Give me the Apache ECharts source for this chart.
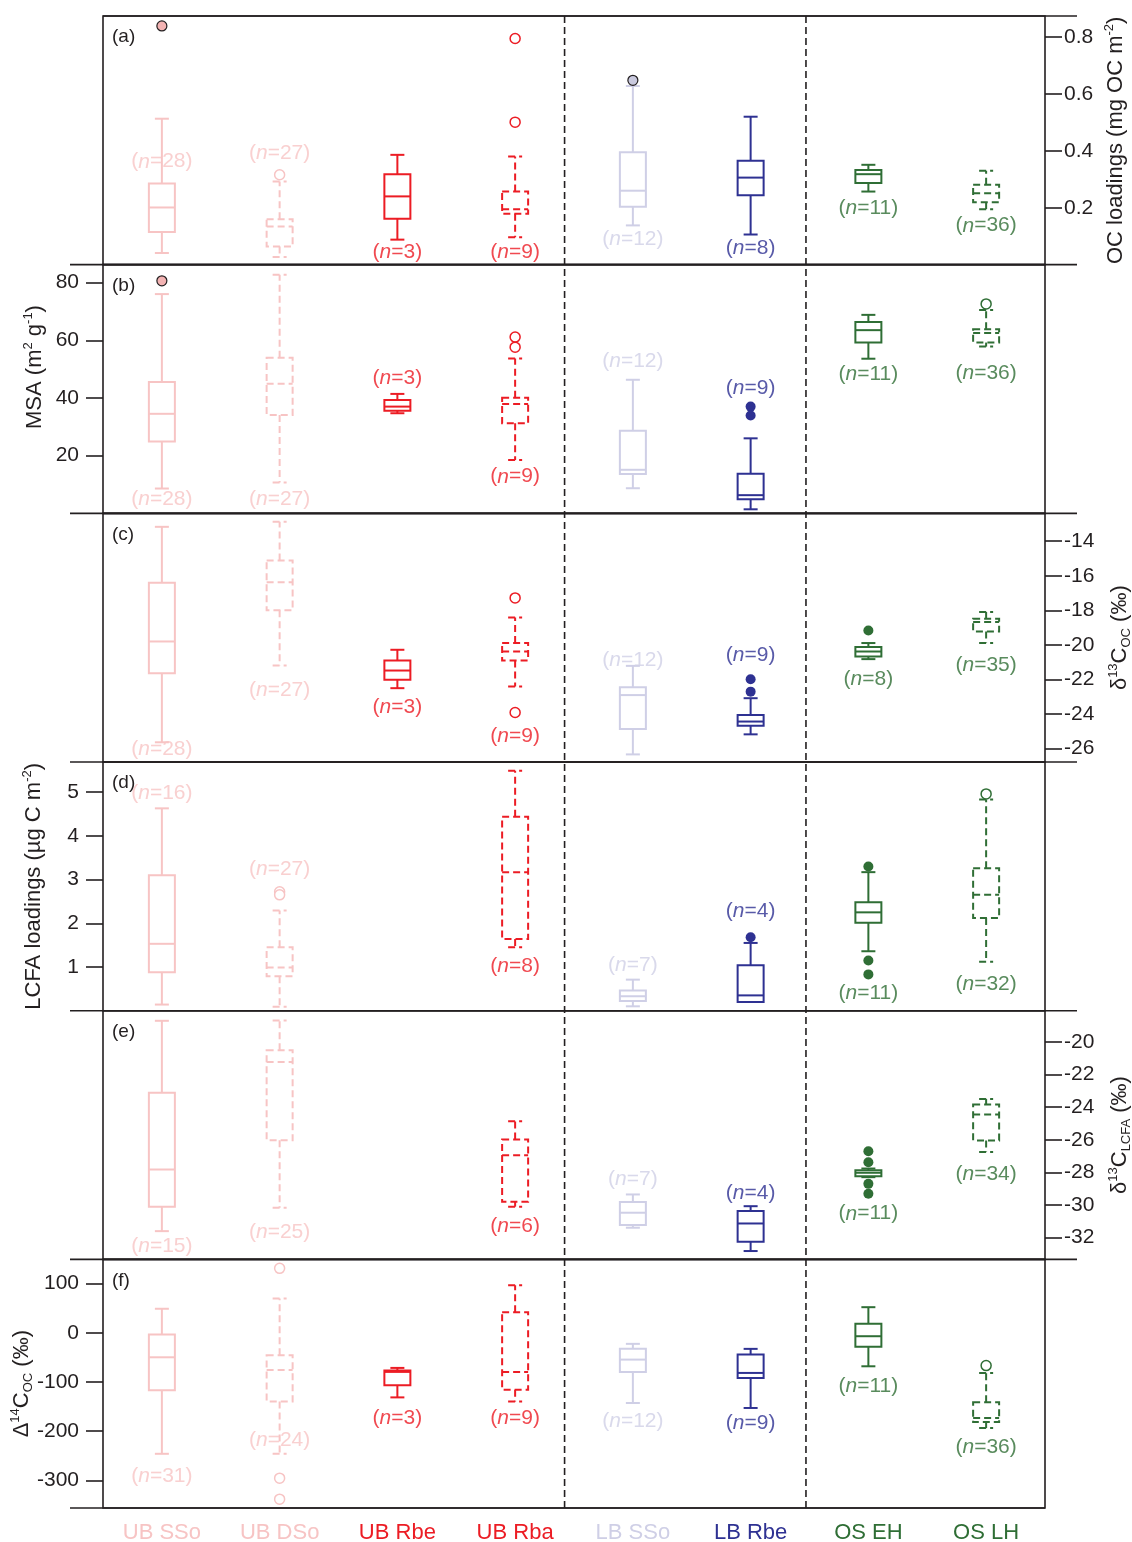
<!DOCTYPE html>
<html>
<head>
<meta charset="utf-8">
<script src="https://cdn.jsdelivr.net/npm/echarts@6/dist/echarts.min.js"></script>
<style>
  html, body { margin: 0; padding: 0; background: #fff; }
  #chart { width: 1132px; height: 1542px; }
</style>
</head>
<body>
<div id="chart"></div>
<script>
// ---- categories ----
const categories = ['UB SSo', 'UB DSo', 'UB Rbe', 'UB Rba', 'LB SSo', 'LB Rbe', 'OS EH', 'OS LH'];

// ---- box statistics: [lower whisker, Q1, median, Q3, upper whisker] per category ----
const ocLoadingBoxes = [
  [0.041, 0.115, 0.201, 0.285, 0.513],
  [0.027, 0.064, 0.134, 0.160, 0.292],
  [0.088, 0.161, 0.240, 0.318, 0.386],
  [0.096, 0.179, 0.195, 0.257, 0.380],
  [0.138, 0.204, 0.260, 0.395, 0.628],
  [0.106, 0.244, 0.306, 0.365, 0.520],
  [0.257, 0.287, 0.318, 0.333, 0.351],
  [0.195, 0.219, 0.251, 0.281, 0.330]
];
const ocLoadingOutliers = [[0, 0.839], [1, 0.316], [3, 0.795], [3, 0.501], [4, 0.648]];
const ocLoadingN = [28, 27, 3, 9, 12, 8, 11, 36];
const ocLoadingTicks = [0.2, 0.4, 0.6, 0.8];

const msaBoxes = [
  [8.6, 24.9, 34.5, 45.5, 76.0],
  [10.7, 34.1, 44.9, 53.9, 82.7],
  [34.7, 35.6, 37.0, 39.3, 41.4],
  [18.5, 31.2, 37.9, 40.1, 53.7],
  [8.7, 13.6, 15.1, 28.6, 46.3],
  [1.4, 4.9, 6.3, 13.7, 26.0],
  [53.6, 59.2, 63.5, 66.3, 68.8],
  [57.8, 59.2, 62.5, 63.8, 70.5]
];
const msaOutliers = [[0, 80.6], [3, 61.1], [3, 57.6], [5, 37.0], [5, 33.9], [7, 72.6]];
const msaN = [28, 27, 3, 9, 12, 9, 11, 36];
const msaTicks = [20, 40, 60, 80];

const d13cOcBoxes = [
  [-25.63, -21.63, -19.80, -16.41, -13.17],
  [-21.19, -18.00, -16.38, -15.12, -12.88],
  [-22.50, -22.02, -21.48, -20.90, -20.28],
  [-22.41, -20.90, -20.38, -19.89, -18.41],
  [-26.33, -24.86, -22.90, -22.44, -21.21],
  [-25.17, -24.68, -24.43, -24.05, -23.08],
  [-20.82, -20.67, -20.38, -20.12, -19.89],
  [-19.89, -19.22, -18.67, -18.48, -18.09]
];
const d13cOcOutliers = [[3, -17.28], [3, -23.91], [5, -21.98], [5, -22.70], [6, -19.16]];
const d13cOcN = [28, 27, 3, 9, 12, 9, 8, 35];
const d13cOcTicks = [-26, -24, -22, -20, -18, -16, -14];

const lcfaBoxes = [
  [0.14, 0.88, 1.53, 3.10, 4.63],
  [0.09, 0.79, 0.99, 1.45, 2.29],
  null,
  [1.45, 1.64, 3.17, 4.44, 5.49],
  [0.10, 0.22, 0.33, 0.46, 0.71],
  [0.20, 0.20, 0.35, 1.04, 1.55],
  [1.36, 2.01, 2.25, 2.48, 3.17],
  [1.12, 2.12, 2.65, 3.26, 4.83]
];
const lcfaOutliers = [[1, 2.72], [1, 2.65], [5, 1.68], [6, 3.30], [6, 1.15], [6, 0.83], [7, 4.96]];
const lcfaN = [16, 27, null, 8, 7, 4, 11, 32];
const lcfaTicks = [1, 2, 3, 4, 5];

const d13cLcfaBoxes = [
  [-31.60, -30.10, -27.82, -23.12, -18.70],
  [-30.17, -26.03, -21.23, -20.51, -18.68],
  null,
  [-30.10, -29.80, -26.94, -25.98, -24.86],
  [-31.39, -31.23, -30.47, -29.82, -29.35],
  [-32.82, -32.25, -31.13, -30.37, -30.07],
  [-28.29, -28.23, -28.02, -27.86, -27.76],
  [-26.74, -26.04, -24.45, -23.84, -23.49]
];
const d13cLcfaOutliers = [[6, -26.70], [6, -27.37], [6, -28.70], [6, -29.31]];
const d13cLcfaN = [15, 25, null, 6, 7, 4, 11, 34];
const d13cLcfaTicks = [-32, -30, -28, -26, -24, -22, -20];

const d14cBoxes = [
  [-245.8, -116.9, -49.7, -3.5, 48.9],
  [-245.8, -139.3, -75.4, -45.6, 69.9],
  [-131.2, -106.7, -79.4, -76.8, -71.3],
  [-139.3, -115.5, -79.4, 42.0, 96.9],
  [-142.6, -79.4, -54.4, -32.6, -22.4],
  [-152.7, -91.6, -81.5, -44.2, -32.6],
  [-68.0, -28.5, -6.9, 18.3, 52.1],
  [-193.5, -181.3, -173.1, -141.3, -81.5]
];
const d14cOutliers = [[1, 131], [1, -295.3], [1, -338], [7, -66.6]];
const d14cN = [31, 24, 3, 9, 12, 9, 11, 36];
const d14cTicks = [-300, -200, -100, 0, 100];

// ---- where each "(n=..)" note sits, in the panel's own units ----
const ocLoadingNLabelAt = [0.362, 0.392, 0.043, 0.043, 0.088, 0.059, 0.199, 0.137];
const msaNLabelAt = [4.9, 4.9, 46.9, 12.7, 52.6, 43.4, 48.2, 48.6];
const d13cOcNLabelAt = [-26.03, -22.60, -23.62, -25.30, -20.86, -20.57, -21.98, -21.15];
const lcfaNLabelAt = [4.98, 3.23, null, 1.01, 1.05, 2.27, 0.41, 0.60];
const d13cLcfaNLabelAt = [-32.52, -31.66, null, -31.29, -28.43, -29.25, -30.53, -28.13];
const d14cNLabelAt = [-292, -219, -173, -173, -180, -183, -109, -233];

// ---- styling ----
const INK = '#231F20';
const FONT = '"Liberation Sans", Arial, Helvetica, sans-serif';
const categoryColors = ['#F7C4C4', '#F7C4C4', '#EC1C24', '#EC1C24', '#CFCFE6', '#2E3192', '#2F6E35', '#2F6E35'];
const categoryDashed = [false, true, false, true, false, false, false, true];
const outlierKinds = ['ringed', 'open', 'open', 'open', 'ringed', 'solid', 'solid', 'open'];
const ringedFill = ['#F3B3B3', null, null, null, '#C9C9DE', null, null, null];

const PLOT_LEFT = 103, PLOT_RIGHT = 1045, PLOT_TOP = 16, PANEL_H = 248.67;
const CHART_W = 1132;
const TICK_FONT = 21, NAME_FONT = 22, NOTE_FONT = 21, CAT_FONT = 22;

const supRich = {
  t: { fontSize: NAME_FONT, fontFamily: FONT, color: INK, lineHeight: 26 },
  sup: { fontSize: 13, fontFamily: FONT, color: INK, verticalAlign: 'top', lineHeight: 26 },
  sub: { fontSize: 13, fontFamily: FONT, color: INK, verticalAlign: 'bottom', lineHeight: 26 }
};

const panels = [
  { letter: '(a)', boxes: ocLoadingBoxes, outliers: ocLoadingOutliers, counts: ocLoadingN, labelAt: ocLoadingNLabelAt,
    min: 0, max: 0.874, ticks: ocLoadingTicks, side: 'right', digits: 1,
    name: '{t|OC loadings (mg OC m}{sup|-2}{t|)}', nameGap: 58, namePad: 0 },
  { letter: '(b)', boxes: msaBoxes, outliers: msaOutliers, counts: msaN, labelAt: msaNLabelAt,
    min: 0, max: 86.2, ticks: msaTicks, side: 'left', digits: 0,
    name: '{t|MSA (m}{sup|2}{t| g}{sup|-1}{t|)}', nameGap: 55, namePad: 44 },
  { letter: '(c)', boxes: d13cOcBoxes, outliers: d13cOcOutliers, counts: d13cOcN, labelAt: d13cOcNLabelAt,
    min: -26.77, max: -12.39, ticks: d13cOcTicks, side: 'right', digits: 0,
    name: '{t|δ}{sup|13}{t|C}{sub|OC}{t| (‰)}', nameGap: 62, namePad: 0 },
  { letter: '(d)', boxes: lcfaBoxes, outliers: lcfaOutliers, counts: lcfaN, labelAt: lcfaNLabelAt,
    min: 0, max: 5.69, ticks: lcfaTicks, side: 'left', digits: 0,
    name: '{t|LCFA loadings (µg C m}{sup|-2}{t|)}', nameGap: 56, namePad: 0 },
  { letter: '(e)', boxes: d13cLcfaBoxes, outliers: d13cLcfaOutliers, counts: d13cLcfaN, labelAt: d13cLcfaNLabelAt,
    min: -33.33, max: -18.08, ticks: d13cLcfaTicks, side: 'right', digits: 0,
    name: '{t|δ}{sup|13}{t|C}{sub|LCFA}{t| (‰)}', nameGap: 62, namePad: 0 },
  { letter: '(f)', boxes: d14cBoxes, outliers: d14cOutliers, counts: d14cN, labelAt: d14cNLabelAt,
    min: -356, max: 149.3, ticks: d14cTicks, side: 'left', digits: 0,
    name: '{t|Δ}{sup|14}{t|C}{sub|OC}{t| (‰)}', nameGap: 68, namePad: 0 }
];

function boxRenderer(params, api) {
  const i = api.value(0);
  const ys = [1, 2, 3, 4, 5].map(d => api.coord([i, api.value(d)])[1]);
  const x = api.coord([i, api.value(3)])[0];
  const [yLo, yQ1, yMed, yQ3, yHi] = ys;
  const color = categoryColors[i];
  const dash = categoryDashed[i] ? [7, 4] : null;
  const st = () => ({ stroke: color, lineWidth: 2, fill: 'none', lineDash: dash });
  const hb = 13, hc = 7;
  const line = (x1, y1, x2, y2) => ({ type: 'line', shape: { x1, y1, x2, y2 }, style: st() });
  const children = [
    { type: 'rect', shape: { x: x - hb, y: yQ3, width: 2 * hb, height: yQ1 - yQ3 }, style: st() },
    line(x - hb, yMed, x + hb, yMed)
  ];
  if (yHi < yQ3 - 0.5) children.push(line(x, yQ3, x, yHi));
  children.push(line(x - hc, yHi, x + hc, yHi));
  if (yLo > yQ1 + 0.5) {
    children.push(line(x, yQ1, x, yLo));
    children.push(line(x - hc, yLo, x + hc, yLo));
  }
  return { type: 'group', children };
}

function outlierStyle(i) {
  const kind = outlierKinds[i];
  if (kind === 'open') return { color: '#fff', borderColor: categoryColors[i], borderWidth: 1.5, opacity: 1 };
  if (kind === 'ringed') return { color: ringedFill[i], borderColor: INK, borderWidth: 1.2, opacity: 1 };
  return { color: categoryColors[i], borderWidth: 0, opacity: 1 };
}

const grids = [], xAxes = [], yAxes = [], series = [];
panels.forEach((p, k) => {
  const top = PLOT_TOP + k * PANEL_H;
  grids.push({
    left: PLOT_LEFT, right: CHART_W - PLOT_RIGHT, top: top, height: PANEL_H,
    show: true, borderColor: INK, borderWidth: 1.6, backgroundColor: 'transparent',
    outerBoundsMode: 'none'
  });
  const last = k === panels.length - 1;
  xAxes.push({
    gridIndex: k, type: 'category', data: categories, boundaryGap: true,
    axisLine: { show: false }, axisTick: { show: false }, splitLine: { show: false },
    axisLabel: {
      show: last, margin: 14, fontSize: CAT_FONT, fontFamily: FONT,
      color: (v, idx) => categoryColors[idx]
    }
  });
  yAxes.push({
    gridIndex: k, type: 'value', position: p.side, min: p.min, max: p.max,
    axisLine: { show: false },
    splitLine: { show: false },
    axisTick: { show: true, inside: false, length: 17, customValues: p.ticks, lineStyle: { color: INK, width: 1.6 } },
    axisLabel: {
      show: true, customValues: p.ticks, margin: p.side === 'left' ? 24 : 19,
      fontSize: TICK_FONT, fontFamily: FONT, color: INK,
      formatter: v => Number(v).toFixed(p.digits)
    },
    name: p.name, nameLocation: 'middle', nameRotate: 90, nameGap: p.nameGap,
    nameMoveOverlap: false,
    nameTextStyle: { rich: supRich, fontSize: NAME_FONT, fontFamily: FONT, color: INK, padding: [0, 0, 0, p.namePad] }
  });

  series.push({
    type: 'custom', xAxisIndex: k, yAxisIndex: k, silent: true,
    renderItem: boxRenderer,
    encode: { x: 0, y: [1, 2, 3, 4, 5] },
    data: p.boxes.map((b, i) => b ? [i].concat(b) : null).filter(Boolean),
    z: 2
  });
  series.push({
    type: 'scatter', xAxisIndex: k, yAxisIndex: k, silent: true,
    symbol: 'circle', symbolSize: 10,
    itemStyle: { opacity: 1 },
    data: p.outliers.map(o => ({ value: o, itemStyle: outlierStyle(o[0]) })),
    z: 3
  });
  series.push({
    type: 'scatter', xAxisIndex: k, yAxisIndex: k, silent: true,
    symbolSize: 0,
    data: p.counts.map((n, i) => n == null ? null : {
      value: [i, p.labelAt[i], n], label: { color: categoryColors[i] }
    }).filter(Boolean),
    label: {
      show: true, position: 'inside',
      formatter: q => '{a|(}{i|n}{a|=' + q.value[2] + ')}',
      rich: {
        a: { fontSize: NOTE_FONT, fontFamily: FONT },
        i: { fontSize: NOTE_FONT, fontFamily: FONT, fontStyle: 'italic' }
      }
    },
    z: 4
  });
});

const chart = echarts.init(document.getElementById('chart'), null, { renderer: 'canvas' });
chart.setOption({
  backgroundColor: '#fff',
  animation: false,
  grid: grids, xAxis: xAxes, yAxis: yAxes, series: series
});

// frame extensions, group separators and panel letters
const bottom = PLOT_TOP + panels.length * PANEL_H;
const graphics = [];
for (let k = 0; k <= panels.length; k++) {
  const y = PLOT_TOP + k * PANEL_H;
  graphics.push({
    type: 'line', silent: true,
    shape: { x1: k === 0 ? PLOT_LEFT : 70, y1: y, x2: k === panels.length ? PLOT_RIGHT : 1077, y2: y },
    style: { stroke: INK, lineWidth: 1.6 }
  });
}
const px = i => chart.convertToPixel({ xAxisIndex: 0 }, i);
[[3, 0.42], [5, 0.47]].forEach(([i, f]) => {
  const x = px(i) + f * (px(i + 1) - px(i));
  graphics.push({
    type: 'line', silent: true,
    shape: { x1: x, y1: PLOT_TOP, x2: x, y2: bottom },
    style: { stroke: INK, lineWidth: 1.6, lineDash: [7, 4] }
  });
});
panels.forEach((p, k) => {
  graphics.push({
    type: 'text', silent: true,
    x: PLOT_LEFT + 9, y: PLOT_TOP + k * PANEL_H + 21,
    style: { text: p.letter, fontSize: 19, fontFamily: FONT, fill: INK, verticalAlign: 'middle' }
  });
});
chart.setOption({ graphic: graphics });
</script>
</body>
</html>
